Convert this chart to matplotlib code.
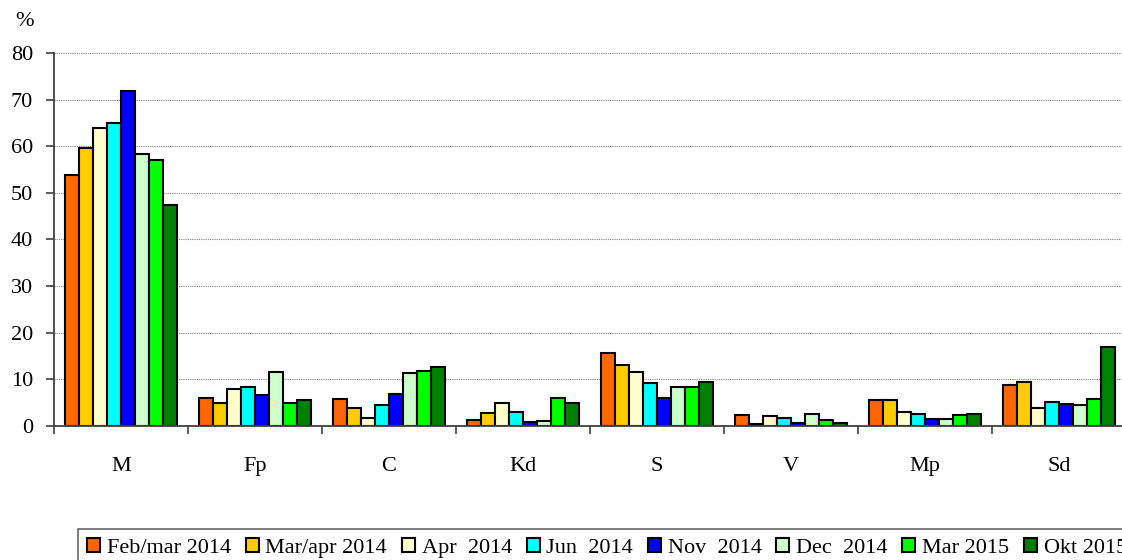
import matplotlib
matplotlib.use("Agg")
import matplotlib.pyplot as plt
import numpy as np

categories = ["M", "Fp", "C", "Kd", "S", "V", "Mp", "Sd"]
series_names = ["Feb/mar 2014", "Mar/apr 2014", "Apr  2014", "Jun  2014",
                "Nov  2014", "Dec  2014", "Mar 2015", "Okt 2015"]
feb_mar_2014 = [53.8, 6.0, 5.7, 1.3, 15.6, 2.3, 5.5, 8.9]
mar_apr_2014 = [59.6, 5.0, 3.9, 2.8, 13.0, 0.4, 5.6, 9.4]
apr_2014 = [64.0, 7.9, 1.8, 4.9, 11.6, 2.1, 3.1, 3.9]
jun_2014 = [65.0, 8.4, 4.4, 3.1, 9.3, 1.7, 2.5, 5.1]
nov_2014 = [71.8, 6.6, 6.9, 0.9, 6.1, 0.7, 1.6, 4.7]
dec_2014 = [58.3, 11.6, 11.4, 1.1, 8.3, 2.6, 1.6, 4.4]
mar_2015 = [57.1, 4.9, 11.9, 6.1, 8.4, 1.3, 2.4, 5.7]
okt_2015 = [47.4, 5.6, 12.6, 4.9, 9.4, 0.6, 2.6, 16.9]
yticks = [0, 10, 20, 30, 40, 50, 60, 70, 80]

series = [feb_mar_2014, mar_apr_2014, apr_2014, jun_2014,
          nov_2014, dec_2014, mar_2015, okt_2015]
colors = ["#FF6600", "#FFCC00", "#FFFFCC", "#00FFFF",
          "#0000FF", "#CCFFCC", "#00FF00", "#008000"]

plt.rcParams['font.family'] = ['Liberation Serif', 'DejaVu Serif']
fig = plt.figure(figsize=(11.22, 5.6), dpi=100)
ax = fig.add_axes([54/1122, 1-426/560, (1126-54)/1122, (426-53)/560])

x = np.arange(len(categories))
w = 0.105
handles = []
for j, (vals, c, name) in enumerate(zip(series, colors, series_names)):
    b = ax.bar(x + (j - 3.5) * w, vals, width=w, color=c, edgecolor="black",
               linewidth=1.5, label=name, zorder=3)
    handles.append(b)

ax.set_xlim(-0.5, len(categories) - 0.5)
ax.set_ylim(0, 80)
ax.set_yticks(yticks)
ax.set_yticklabels([str(t) for t in yticks], fontsize=16)
ax.set_xticks(x)
ax.set_xticklabels(categories, fontsize=16)
ax.set_xticks(np.arange(len(categories) + 1) - 0.5, minor=True)
ax.tick_params(axis='x', which='major', length=0, pad=22)
ax.tick_params(axis='x', which='minor', length=6, width=1.2, color='#404040', direction='out')
ax.tick_params(axis='y', which='major', length=6, width=1.2, color='#404040', direction='out', pad=9)

ax.yaxis.grid(True, linestyle=(0, (1, 1)), color='#808080', linewidth=0.8, zorder=0)
ax.set_axisbelow(True)
for s in ["top", "right"]:
    ax.spines[s].set_visible(False)
for s in ["left", "bottom"]:
    ax.spines[s].set_color('#404040')
    ax.spines[s].set_linewidth(1.3)
    ax.spines[s].set_zorder(4)

fig.text(24/1122, 1-21/560, "%", fontsize=16, ha='center', va='center')

leg = fig.legend(handles=handles, labels=series_names, loc='upper left',
                 bbox_to_anchor=(78/1122, 1-529/560), ncol=8, fontsize=16,
                 frameon=True, fancybox=False, handlelength=0.58, handleheight=0.58,
                 handletextpad=0.3, columnspacing=0.67, borderpad=0.42,
                 borderaxespad=0)
leg.get_frame().set_edgecolor('#404040')
leg.get_frame().set_linewidth(1.2)

fig.savefig("out.png", dpi=100)
